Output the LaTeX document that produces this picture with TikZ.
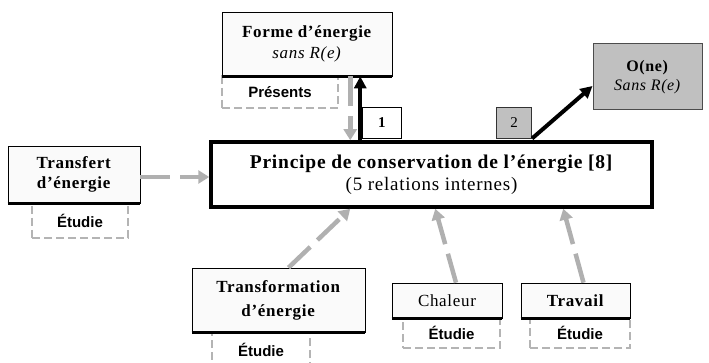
\documentclass[tikz,border=0pt]{standalone}
\usepackage{fontspec}
\setmainfont{Liberation Serif}[LetterSpace=4]
\newfontfamily\tagfont{Liberation Sans}
\usetikzlibrary{arrows.meta,calc}
\definecolor{garr}{RGB}{176,176,176}
\definecolor{gtag}{RGB}{180,180,180}
\definecolor{gfill}{RGB}{192,192,192}
\definecolor{bfill}{RGB}{250,250,250}
\begin{document}
\begin{tikzpicture}[x=1pt,y=-1pt,
  box/.style={draw=black, line width=0.7pt, fill=bfill, inner sep=0pt, align=center,
    font=\fontsize{17}{20}\selectfont},
  tagbox/.style={draw=gtag, dash pattern=on 8pt off 4pt, line width=2pt, fill=white,
    inner sep=0pt, font=\tagfont\bfseries\fontsize{15}{17}\selectfont},
  garrow/.style={draw=garr, line width=4.5pt, dash pattern=on 30pt off 10pt,
    -{Triangle[length=11pt,width=13pt]}},
  barrow/.style={draw=black, line width=4pt, -{Triangle[length=12pt,width=12pt]}},
  botline/.style={line width=2.5pt, draw=black}
]
\useasboundingbox (0,0) rectangle (709,363);

% tag boxes (drawn first)
\node[tagbox, minimum width=116pt, minimum height=32pt] (pres) at (280,92) {Présents};
\node[tagbox, minimum width=96pt, minimum height=34pt] (tag1) at (80,221) {Étudie};
\node[tagbox, minimum width=98pt, minimum height=36pt] (tag2) at (261,350) {Étudie};
\node[tagbox, minimum width=97pt, minimum height=30pt] (tag3) at (451.5,333) {Étudie};
\node[tagbox, minimum width=100pt, minimum height=30pt] (tag4) at (580,333) {Étudie};

% boxes
\node[box, minimum width=170pt, minimum height=64pt] (forme) at (307,44)
  {\textbf{Forme d’énergie}\\[1pt] \textit{sans R(e)}};
\draw[botline] (forme.south west) -- (forme.south east);

\node[box, minimum width=132pt, minimum height=57pt] (transfert) at (74,174.5)
  {\textbf{Transfert}\\ \textbf{d’énergie}};
\draw[botline] (transfert.south west) -- (transfert.south east);

\node[box, minimum width=173pt, minimum height=64pt, font=\fontsize{17}{24}\selectfont] (transf) at (278.5,300)
  {\textbf{Transformation}\\ \textbf{d’énergie}};
\draw[botline] (transf.south west) -- (transf.south east);

\node[box, minimum width=110pt, minimum height=35pt] (chal) at (447,300.5) {Chaleur};
\draw[botline] (chal.south west) -- (chal.south east);

\node[box, minimum width=109pt, minimum height=35pt] (trav) at (575.5,300.5) {\textbf{Travail}};
\draw[botline] (trav.south west) -- (trav.south east);

\node[box, fill=gfill, draw=black!70, line width=1pt, minimum width=109pt, minimum height=66pt,
  font=\fontsize{16}{19}\selectfont] (obox) at (647.5,77)
  {\textbf{O(ne)}\\ \textit{Sans R(e)}};

\node[draw=black, line width=3.5pt, fill=white, inner sep=0pt, align=center,
  minimum width=441pt, minimum height=65pt] (main) at (431.5,174.5)
  {\fontsize{19.5}{24}\selectfont\textbf{Principe de conservation de l'énergie [8]}\\[4pt]
   \fontsize{19}{24}\selectfont (5 relations internes)};

% small numbered boxes
\node[draw=black, line width=0.8pt, fill=white, inner sep=0pt, minimum width=39pt,
  minimum height=31pt, anchor=south west, font=\fontsize{15}{17}\selectfont]
  (one) at ([xshift=153pt,yshift=1.75pt]main.north west) {\textbf{1}};
\node[draw=black!80, line width=0.8pt, fill=gfill, inner sep=0pt, minimum width=35pt,
  minimum height=31pt, anchor=south west, font=\fontsize{15}{17}\selectfont]
  (two) at ([xshift=287pt,yshift=1.75pt]main.north west) {2};

% black arrows
\coordinate (b1) at ($(main.north west)+(151,0)$);
\draw[barrow] (b1) -- (b1 |- forme.south);
\draw[barrow] (two.south east) -- ([yshift=-9pt]obox.west);

% gray dashed arrows
\coordinate (g1) at ($(main.north west)+(141,0)$);
\draw[garrow] (g1 |- forme.south) -- (g1);
\draw[garrow] ([yshift=-2.5pt]transfert.east) -- ([yshift=-2.5pt]transfert.east -| main.west);
\draw[garrow] ([xshift=10pt]transf.north) -- ($(main.south west)+(141,0)$);
\draw[garrow] ([xshift=9pt]chal.north) -- ($(main.south west)+(226,0)$);
\draw[garrow] ([xshift=8pt]trav.north) -- ($(main.south west)+(354,0)$);
\end{tikzpicture}
\end{document}
